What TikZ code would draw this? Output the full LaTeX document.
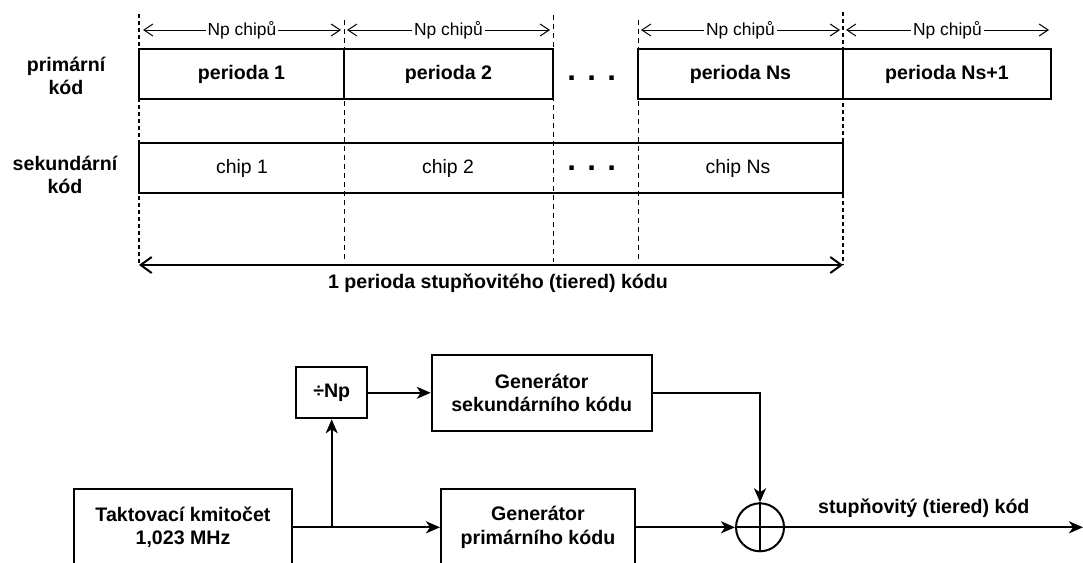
\documentclass[tikz,border=0pt]{standalone}
\usepackage{fontspec}
\setmainfont{Liberation Sans}
\usetikzlibrary{arrows.meta}
\begin{document}
\begin{tikzpicture}[x=1pt,y=-1pt,
  bfont/.style={font=\fontsize{19.6pt}{23.5pt}\selectfont\bfseries},
  rfont/.style={font=\fontsize{19.4pt}{23.5pt}\selectfont},
  nfont/.style={font=\fontsize{17.4pt}{20pt}\selectfont},
  pbox/.style={draw, line width=2pt, rectangle, inner sep=0pt, bfont, align=center, minimum height=50pt},
  blk/.style={draw, line width=2pt, rectangle, inner sep=0pt, bfont, align=center},
  lbl/.style={bfont, align=center, inner sep=0pt},
  thindash/.style={line width=1pt, dash pattern=on 5pt off 4pt},
  thickdash/.style={line width=2pt, dash pattern=on 4pt off 3pt},
  nparrow/.style={line width=1pt, {Straight Barb[length=9pt,width=12pt]}-{Straight Barb[length=9pt,width=12pt]}},
  bigarrow/.style={line width=2pt, {Straight Barb[length=11pt,width=16pt]}-{Straight Barb[length=11pt,width=16pt]}},
  wire/.style={line width=2pt, -{Stealth[length=14pt,width=12pt,inset=4pt]}},
  dots/.style={font=\fontsize{31pt}{31pt}\selectfont\bfseries, inner sep=0pt, anchor=base}
]
\clip (0,0) rectangle (1083,562);

% dashed guide lines
\draw[thickdash] (139,14) -- (139,265);
\draw[thindash] (344,20) -- (344,262);
\draw[thindash] (553,15) -- (553,262);
\draw[thindash] (638,20) -- (638,262);
\draw[thickdash] (843,12) -- (843,265);

% primary code
\node[pbox, minimum width=205pt] (p1) at (241.5,74.3) {perioda 1};
\node[pbox, minimum width=209pt] (p2) at (448.5,74.3) {perioda 2};
\node[dots] (e1) at (591.7,80.5) {. . .};
\node[pbox, minimum width=205pt] (pns) at (740.5,74.3) {perioda Ns};
\node[pbox, minimum width=208pt] (pns1) at (947,74.3) {perioda Ns+1};

% Np chipu arrows
\draw[nparrow] (143,30) -- (341,30) node[midway, fill=white, nfont, inner sep=2pt] (n1) {Np chipů};
\draw[nparrow] (347,30) -- (550,30) node[midway, fill=white, nfont, inner sep=2pt] (n2) {Np chipů};
\draw[nparrow] (641,30) -- (840,30) node[midway, fill=white, nfont, inner sep=2pt] (n3) {Np chipů};
\draw[nparrow] (846,30) -- (1049,30) node[midway, fill=white, nfont, inner sep=2pt] (n4) {Np chipů};

% secondary code
\node[draw, line width=1.5pt, rectangle, inner sep=0pt, minimum width=704pt, minimum height=50pt] (sec) at (491,168) {};
\node[rfont, inner sep=0pt] (c1) at (242,168) {chip 1};
\node[rfont, inner sep=0pt] (c2) at (448,168) {chip 2};
\node[dots] (e2) at (591.7,170.5) {. . .};
\node[rfont, inner sep=0pt] (cns) at (738,168) {chip Ns};

% left labels
\node[lbl] (lp) at (66,76) {primární\\kód};
\node[lbl] (ls) at (65,175) {sekundární\\kód};

% total period arrow
\coordinate (ta) at (139,265);
\coordinate (tb) at (843,265);
\draw[bigarrow] (ta) -- (tb);
\node[lbl] (tl) at (498,283) {1 perioda stupňovitého (tiered) kódu};

% block diagram
\node[blk, minimum width=218pt, minimum height=76pt] (clk) at (183,527.3) {Taktovací kmitočet\\1,023 MHz};
\node[blk, minimum width=71pt, minimum height=51pt] (div) at (331.7,392.8) {÷Np};
\node[blk, minimum width=220pt, minimum height=76pt] (gs) at (541.7,392.8) {Generátor\\sekundárního kódu};
\node[blk, minimum width=194pt, minimum height=76pt] (gp) at (538,527.3) {Generátor\\primárního kódu};
\node[draw, circle, line width=2pt, minimum size=48pt, inner sep=0pt] (xor) at (760,527.3) {};
\draw[line width=2pt] (xor.north) -- (xor.south);
\draw[line width=2pt] (xor.west) -- (xor.east);
\coordinate (j) at (331.7,527.3);
\coordinate (out) at (1083,527.3);

\draw[line width=2pt] (clk.east) -- (j);
\draw[wire] (j) -- (gp.west);
\draw[wire] (j) -- (div.south);
\draw[wire] (div.east) -- (gs.west);
\draw[wire] (gs.east) -| (xor.north);
\draw[wire] (gp.east) -- (xor.west);
\draw[wire] (xor.east) -- (out);
\node[lbl, anchor=west] (ol) at (818,508) {stupňovitý (tiered) kód};
\end{tikzpicture}
\end{document}
